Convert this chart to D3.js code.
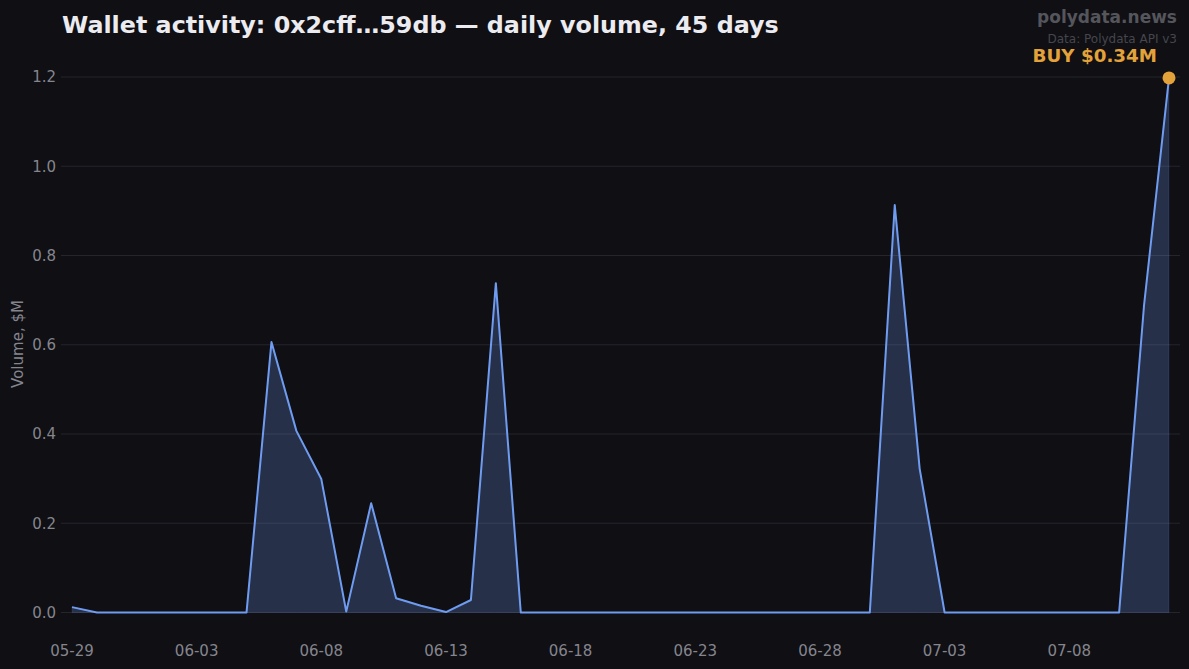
<!DOCTYPE html>
<html>
<head>
<meta charset="utf-8">
<script src="https://cdn.jsdelivr.net/npm/d3@7"></script>
<style>
  html, body { margin: 0; padding: 0; background: #0f0f14; }
  svg { display: block; font-family: "DejaVu Sans", sans-serif; }
</style>
</head>
<body>
<script>
// 45 days of daily volume, $M
const startDate = '2024-05-29';
const volumes = [
  0.012, 0, 0, 0, 0, 0, 0, 0, 0.606, 0.407,
  0.299, 0.002, 0.245, 0.032, 0.015, 0.001, 0.028, 0.738, 0, 0,
  0, 0, 0, 0, 0, 0, 0, 0, 0, 0,
  0, 0, 0, 0.913, 0.322, 0, 0, 0, 0, 0,
  0, 0, 0, 0.689, 1.198
];
const yTicks = [0, 0.2, 0.4, 0.6, 0.8, 1.0, 1.2];
const lastLabel = 'BUY $0.34M';

const width = 1189, height = 669;
const plot = { left: 61, right: 1180, x0: 72, x1: 1169, y0: 612.5, y1: 77 };

const t0 = new Date(startDate + 'T00:00:00Z');
const data = volumes.map((v, i) => ({ date: d3.utcDay.offset(t0, i), value: v }));

const x = d3.scaleUtc()
  .domain(d3.extent(data, d => d.date))
  .range([plot.x0, plot.x1]);
const y = d3.scaleLinear()
  .domain([0, 1.2])
  .range([plot.y0, plot.y1]);

const svg = d3.select('body').append('svg')
  .attr('width', width)
  .attr('height', height);

svg.append('rect').attr('width', width).attr('height', height).attr('fill', '#0f0f14');

// grid
svg.append('g')
  .selectAll('line')
  .data(yTicks)
  .join('line')
  .attr('x1', plot.left).attr('x2', plot.right)
  .attr('y1', d => y(d)).attr('y2', d => y(d))
  .attr('stroke', '#25252c')
  .attr('stroke-width', 1);

// y tick labels
svg.append('g')
  .selectAll('text')
  .data(yTicks)
  .join('text')
  .attr('x', 56)
  .attr('y', d => y(d))
  .attr('dy', '0.35em')
  .attr('text-anchor', 'end')
  .attr('fill', '#85858d')
  .attr('font-size', 15)
  .text(d => d.toFixed(1));

// x tick labels
const xTicks = data.filter((d, i) => i % 5 === 0).map(d => d.date);
const fmt = d3.utcFormat('%m-%d');
svg.append('g')
  .selectAll('text')
  .data(xTicks)
  .join('text')
  .attr('x', d => x(d))
  .attr('y', 656)
  .attr('text-anchor', 'middle')
  .attr('fill', '#85858d')
  .attr('font-size', 15)
  .text(d => fmt(d));

// y axis label
svg.append('text')
  .attr('transform', `translate(23, 344) rotate(-90)`)
  .attr('text-anchor', 'middle')
  .attr('fill', '#85858d')
  .attr('font-size', 15)
  .text('Volume, $M');

// area + line
const area = d3.area()
  .x(d => x(d.date))
  .y0(y(0))
  .y1(d => y(d.value));
const line = d3.line()
  .x(d => x(d.date))
  .y(d => y(d.value));

svg.append('path')
  .datum(data)
  .attr('d', area)
  .attr('fill', '#6f9cf0')
  .attr('fill-opacity', 0.24)
  .attr('stroke', '#6f9cf0')
  .attr('stroke-opacity', 0.15)
  .attr('stroke-width', 1);

svg.append('path')
  .datum(data)
  .attr('d', line)
  .attr('fill', 'none')
  .attr('stroke', '#6f9cf0')
  .attr('stroke-width', 2)
  .attr('stroke-linejoin', 'round');

// last point marker
const last = data[data.length - 1];
svg.append('circle')
  .attr('cx', x(last.date))
  .attr('cy', y(last.value))
  .attr('r', 6.5)
  .attr('fill', '#e3a23a');

svg.append('text')
  .attr('x', 1157)
  .attr('y', 62)
  .attr('text-anchor', 'end')
  .attr('fill', '#e3a23a')
  .attr('font-size', 18.3)
  .attr('font-weight', 'bold')
  .text(lastLabel);

// titles
svg.append('text')
  .attr('x', 62)
  .attr('y', 33)
  .attr('fill', '#ebebf0')
  .attr('font-size', 23.8)
  .attr('font-weight', 'bold')
  .text('Wallet activity: 0x2cff…59db — daily volume, 45 days');

svg.append('text')
  .attr('x', 1177)
  .attr('y', 23)
  .attr('text-anchor', 'end')
  .attr('fill', '#55555c')
  .attr('font-size', 17)
  .attr('font-weight', 'bold')
  .text('polydata.news');

svg.append('text')
  .attr('x', 1177)
  .attr('y', 43)
  .attr('text-anchor', 'end')
  .attr('fill', '#46464c')
  .attr('font-size', 12)
  .text('Data: Polydata API v3');
</script>
</body>
</html>
